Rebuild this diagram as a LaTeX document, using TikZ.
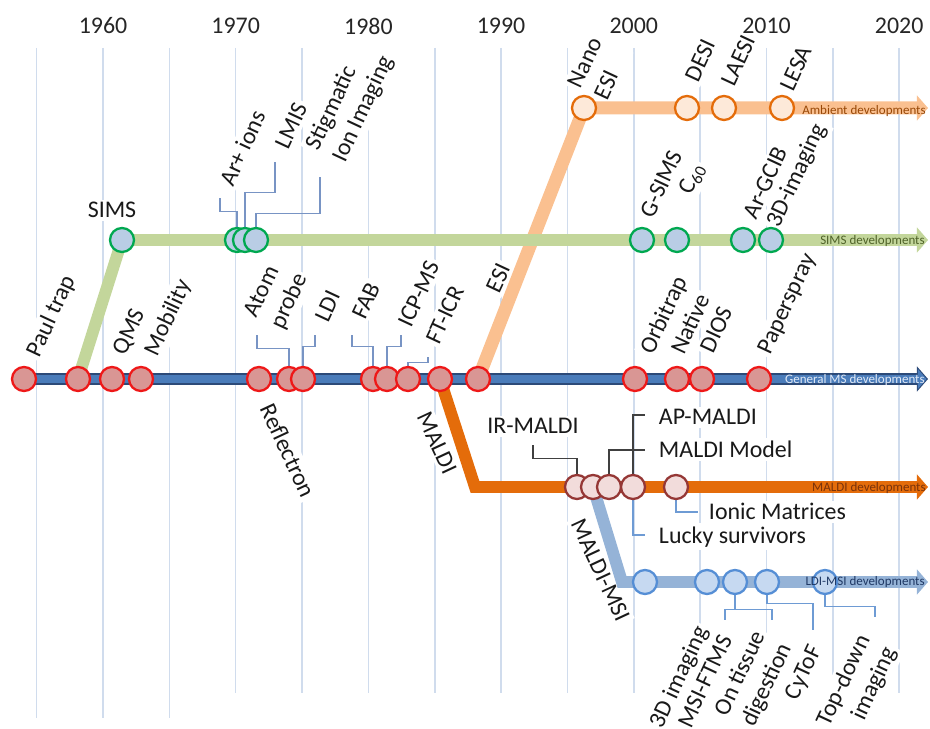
\documentclass[tikz,border=0pt]{standalone}
\usepackage{fontspec}
\setmainfont{Carlito}
\usetikzlibrary{arrows.meta}

\definecolor{gridcol}{RGB}{208,220,237}
\definecolor{leadcol}{RGB}{120,148,196}
\definecolor{ldilead}{RGB}{110,155,212}
\definecolor{mscol}{RGB}{74,124,186}
\definecolor{msdark}{RGB}{44,74,120}
\definecolor{msring}{RGB}{238,24,24}
\definecolor{msfill}{RGB}{217,150,148}
\definecolor{simscol}{RGB}{195,214,155}
\definecolor{simsring}{RGB}{0,168,80}
\definecolor{simsfill}{RGB}{185,205,229}
\definecolor{ambcol}{RGB}{250,192,144}
\definecolor{ambring}{RGB}{228,108,10}
\definecolor{ambfill}{RGB}{253,233,217}
\definecolor{maldicol}{RGB}{228,108,10}
\definecolor{maldiring}{RGB}{149,55,53}
\definecolor{maldifill}{RGB}{242,220,219}
\definecolor{ldicol}{RGB}{149,179,215}
\definecolor{ldiring}{RGB}{85,142,213}
\definecolor{ldifill}{RGB}{198,217,241}
\definecolor{ambtext}{RGB}{152,72,7}
\definecolor{simstext}{RGB}{79,98,40}
\definecolor{mstext}{RGB}{225,234,247}
\definecolor{malditext}{RGB}{120,50,10}
\definecolor{lditext}{RGB}{31,56,100}

\pgfdeclarelayer{grid}
\pgfdeclarelayer{blank}
\pgfdeclarelayer{labels}
\pgfdeclarelayer{tracks}
\pgfsetlayers{grid,blank,labels,tracks,main}

\tikzset{
  gridline/.style={draw=gridcol,line width=0.9pt},
  year/.style={font=\fontsize{13.6}{16}\selectfont,text=black!85},
  lab/.style={font=\fontsize{13.6}{16.5}\selectfont,text=black!90,inner sep=1.5pt},
  up/.style={lab,rotate=65,anchor=base west,align=left},
  upr/.style={lab,rotate=65,anchor=base east,align=right},
  dn/.style={lab,rotate=-65,anchor=base west},
  flat/.style={lab},
  dot/.style={circle,minimum size=0.48cm,inner sep=0pt,line width=1.3pt},
  ms/.style={dot,draw=msring,fill=msfill},
  sims/.style={dot,draw=simsring,fill=simsfill},
  amb/.style={dot,draw=ambring,fill=ambfill},
  maldi/.style={dot,draw=maldiring,fill=maldifill},
  ldi/.style={dot,draw=ldiring,fill=ldifill},
  track/.style={line width=#1,-{Triangle[length=6.3pt,width=14pt]}},
  lead/.style={draw=leadcol,line width=0.7pt},
  darklead/.style={draw=black!75,line width=0.7pt},
  bluelead/.style={draw=ldilead,line width=0.7pt},
  endlab/.style={font=\fontsize{7.4}{8}\selectfont,anchor=east,inner sep=0pt}
}

% label text, with a white patch under it that breaks the grid lines
\newcommand{\evlab}[4]{%
  \begin{pgfonlayer}{labels}\node[#1](#2) at (#3) {#4};\end{pgfonlayer}%
  \begin{pgfonlayer}{blank}\fill[white] (#2.north west) -- (#2.north east)
    -- (#2.south east) -- (#2.south west) -- cycle;\end{pgfonlayer}}

\begin{document}
\begin{tikzpicture}[x=0.02cm,y=-0.02cm]
\useasboundingbox (0,0) rectangle (930,729);

%GRID
\begin{pgfonlayer}{grid}
\foreach \yr in {1955,1960,1965}{
  \pgfmathsetmacro\gx{103+(\yr-1960)*13.27}
  \draw[gridline] (\gx,48) -- (\gx,718);
}
\foreach \yr in {1970,1975,...,2020}{
  \pgfmathsetmacro\gx{103+(\yr-1960)*13.27}
  \draw[gridline] (\gx,48) -- (\gx,693);
}
\end{pgfonlayer}
\foreach \yr in {1960,1970,...,2020}{
  \pgfmathsetmacro\gx{103+(\yr-1960)*13.27}
  \node[year](y\yr) at (\gx,26) {\yr};
}
%GRID

\evlab{up}{lpaul}{38,361}{Paul trap}
\evlab{up}{lqms}{124,359}{QMS}
\evlab{up}{lmob}{156,360}{Mobility}
\evlab{up}{latom}{282,333}{Atom\\probe}
\evlab{up}{lldi}{327,326}{LDI}
\evlab{up}{lfab}{364,323}{FAB}
\evlab{up}{licp}{410,331}{ICP-MS}
\evlab{up}{lft}{438,348}{FT-ICR}
\evlab{up}{lesi}{498,297}{ESI}
\evlab{up}{lorbi}{652,358}{Orbitrap}
\evlab{up}{lnat}{683,358}{Native}
\evlab{up}{ldios}{712,357}{DIOS}
\evlab{up}{lpaper}{769,358}{Paperspray}
\evlab{dn}{lrefl}{258,406}{Reflectron}
\evlab{dn}{lmaldi}{415,414}{MALDI}

\evlab{flat,anchor=base}{lsims}{112,218}{SIMS}
\evlab{up}{lar}{232,190}{Ar+ ions}
\evlab{up}{llmis}{287,153}{LMIS}
\evlab{up}{lstig}{344,166}{Stigmatic\\Ion Imaging}
\evlab{up}{lgsims}{652,222}{G-SIMS}
\evlab{up}{lc60}{690,198}{C\textsubscript{60}}
\evlab{up}{largcib}{755,223}{Ar-GCIB}
\evlab{up}{l3dsims}{778,231}{3D-imaging}

\evlab{up}{lnano}{606,104}{Nano\\ESI}
\evlab{up}{ldesi}{697,86}{DESI}
\evlab{up}{llaesi}{733,90}{LAESI}
\evlab{up}{llesa}{792,95}{LESA}

\evlab{flat,anchor=base}{lir}{533,434}{IR-MALDI}
\evlab{flat,anchor=base west}{lap}{656,425}{AP-MALDI}
\evlab{flat,anchor=base west}{lmodel}{656,458}{MALDI Model}
\evlab{flat,anchor=base west}{lionic}{706,520}{Ionic Matrices}
\evlab{flat,anchor=base west}{llucky}{656,543}{Lucky survivors}
\evlab{dn}{lmsi}{569,521}{MALDI-MSI}

\evlab{upr}{l3d}{710,628}{3D imaging}
\evlab{upr}{lftms}{734,637}{MSI-FTMS}
\evlab{upr}{ltissue}{793,645}{On tissue\\digestion}
\evlab{upr}{lcytof}{823,647}{CyToF}
\evlab{upr}{ltop}{898,649}{Top-down\\imaging}

\node[ms](g1) at (24,379) {};
\node[ms](g2) at (78,379) {};
\node[ms](g3) at (112,379) {};
\node[ms](g4) at (141,379) {};
\node[ms](g5) at (259,379) {};
\node[ms](g6) at (289,379) {};
\node[ms](g7) at (303,379) {};
\node[ms](g8) at (373,379) {};
\node[ms](g9) at (387,379) {};
\node[ms](g10) at (408,379) {};
\node[ms](g11) at (440,379) {};
\node[ms](g12) at (478,379) {};
\node[ms](g13) at (635,379) {};
\node[ms](g14) at (677,379) {};
\node[ms](g15) at (702,379) {};
\node[ms](g16) at (759,379) {};

\node[sims](s1) at (122,240) {};
\node[sims](s2) at (237,240) {};
\node[sims](s3) at (245,240) {};
\node[sims](s4) at (256,240) {};
\node[sims](s5) at (642,240) {};
\node[sims](s6) at (677,240) {};
\node[sims](s7) at (743,240) {};
\node[sims](s8) at (771,240) {};

\node[amb](a1) at (584,108) {};
\node[amb](a2) at (687,108) {};
\node[amb](a3) at (724,108) {};
\node[amb](a4) at (782,108) {};

\node[maldi](m1) at (577,487) {};
\node[maldi](m2) at (593,487) {};
\node[maldi](m3) at (609,487) {};
\node[maldi](m4) at (633,487) {};
\node[maldi](m5) at (676,487) {};

\node[ldi](l1) at (645,582) {};
\node[ldi](l2) at (707,582) {};
\node[ldi](l3) at (735,582) {};
\node[ldi](l4) at (767,582) {};
\node[ldi](l5) at (825,582) {};

\begin{pgfonlayer}{tracks}
\coordinate (ambend) at (928,108);
\coordinate (simsend) at (928,240);
\coordinate (msend) at (928,379);
\coordinate (msin) at (926.5,379);
\coordinate (mcorner) at (475,487);
\coordinate (maldiend) at (928,487);
\coordinate (lcorner) at (622,582);
\coordinate (ldiend) at (928,582);

\coordinate (katom) at (257,335);
\coordinate (kldi) at (315,335);
\coordinate (kfab) at (352,335);
\coordinate (kicp) at (401,335);
\coordinate (kft) at (428,357);
\coordinate (kar) at (220,198);
\coordinate (klmis) at (275,162);
\coordinate (kstig) at (320,177);
\coordinate (kir) at (533,445);
\coordinate (kmodel) at (645,450);
\coordinate (kap) at (645,415);
\coordinate (kluck) at (645,535);
\coordinate (kionic) at (698,512);
\coordinate (ktis1) at (725,620);
\coordinate (ktis2) at (772,620);
\coordinate (kcy) at (813,630);
\coordinate (ktop) at (875,617);

\draw[lead] (g6.north) -- ++(0,-17) -| (katom);
\draw[lead] (g7.north) -- ++(0,-19) -| (kldi);
\draw[lead] (g8.north) -- ++(0,-19) -| (kfab);
\draw[lead] (g9.north) -- ++(0,-19) -| (kicp);
\draw[lead] (g10.north) -- ++(0,-3) -| (kft);
\draw[lead] (s2.north) -- ++(0,-15) -| (kar);
\draw[lead] (s3.north) -- ++(0,-34) -| (klmis);
\draw[lead] (s4.north) -- ++(0,-13) -| (kstig);

\draw[darklead] (m1.north) -- ++(0,-15) -| (kir);
\draw[darklead] (m3.north) |- (kmodel);
\draw[darklead] (m4.north) |- (kap);
\draw[bluelead] (m4.south) |- (kluck);
\draw[bluelead] (m5.south) |- (kionic);

\draw[bluelead] (l3.south) -- ++(0,14) -| (ktis1);
\draw[bluelead] (l3.south) -- ++(0,14) -| (ktis2);
\draw[bluelead] (l4.south) -- ++(0,8) -| (kcy);
\draw[bluelead] (l5.south) -- ++(0,11) -| (ktop);

\draw[track=7.4pt,draw=ambcol] (g12.center) -- (a1.center) -- (ambend);
\draw[track=6.8pt,draw=simscol] (g2.center) -- (s1.center) -- (simsend);
\draw[track=6.3pt,draw=msdark] (g1.center) -- (msend);
\draw[line width=4.6pt,draw=mscol,-{Triangle[length=4.9pt,width=11pt]}] (g1.center) -- (msin);
\draw[track=6.8pt,draw=maldicol] (g11.center) -- (mcorner) -- (maldiend);
\draw[track=6.8pt,draw=ldicol] (m2.center) -- (lcorner) -- (ldiend);
\end{pgfonlayer}

\node[endlab,text=ambtext](tamb) at (926,111) {Ambient developments};
\node[endlab,text=simstext](tsims) at (925,241) {SIMS developments};
\node[endlab,text=mstext](tms) at (925,380) {General MS developments};
\node[endlab,text=malditext](tmaldi) at (926,488) {MALDI developments};
\node[endlab,text=lditext](tldi) at (925,582) {LDI-MSI developments};

\end{tikzpicture}
\end{document}
